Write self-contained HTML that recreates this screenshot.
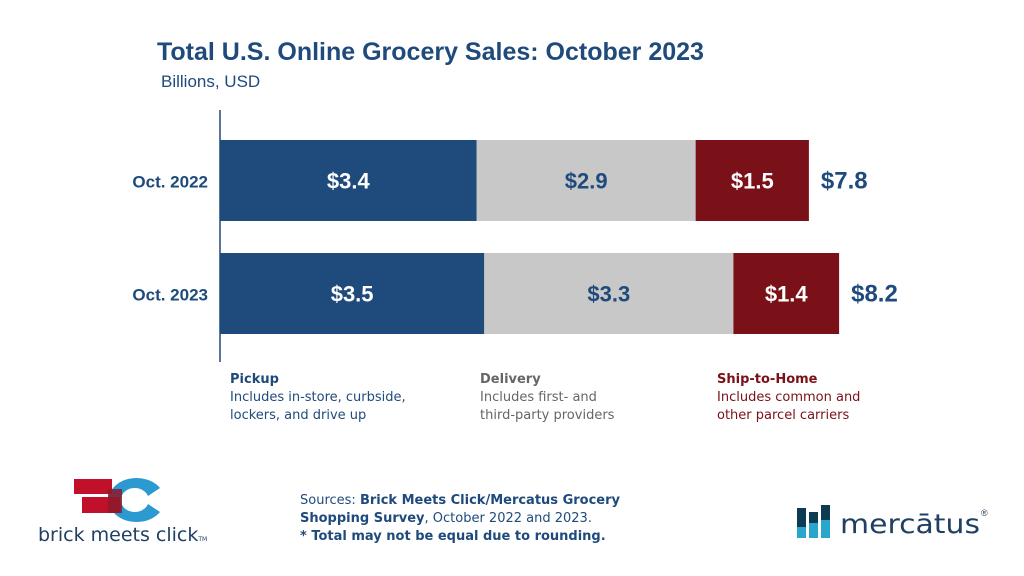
<!DOCTYPE html>
<html><head><meta charset="utf-8"><style>
body{margin:0;width:1024px;height:576px;background:#fff;font-family:"Liberation Sans",sans-serif;position:relative;overflow:hidden}
.a{position:absolute}
.leg{font-family:"DejaVu Sans",sans-serif;font-size:13px;line-height:18px;color:#1f4a7c}
</style></head><body>
<div class="a" style="left:157px;top:38px;font-size:25px;font-weight:bold;color:#1f4a7c">Total U.S. Online Grocery Sales: October 2023</div>
<div class="a" style="left:161px;top:72px;font-size:17px;color:#1f4a7c">Billions, USD</div>
<svg class="a" style="left:0;top:0" width="1024" height="400" id="chart"></svg>
<div class="a leg" style="left:230px;top:371px"><b>Pickup</b><br>Includes in-store, curbside,<br>lockers, and drive up</div>
<div class="a leg" style="left:480px;top:371px;color:#666"><b>Delivery</b><br>Includes first- and<br>third-party providers</div>
<div class="a leg" style="left:717px;top:371px;color:#7b1118"><b>Ship-to-Home</b><br>Includes common and<br>other parcel carriers</div>
<div class="a leg" style="left:300px;top:492px;font-size:13px;line-height:18px">Sources: <b>Brick Meets Click/Mercatus Grocery<br>Shopping Survey</b>, October 2022 and 2023.<br><b>* Total may not be equal due to rounding.</b></div>
<svg class="a" style="left:30px;top:475px" width="200" height="75">
<path d="M130 13 A28 22 0 1 0 130 37 L118 29 A14 12 0 1 1 118 21 Z" fill="#2a9ad0"/>
<rect x="44" y="4" width="38" height="15" fill="#c0102a"/><rect x="52" y="22" width="38" height="16" fill="#c0102a"/>
<rect x="78" y="14" width="14" height="24" fill="#8b1a2a" opacity="0.85"/>
<text x="8" y="66" font-size="19" fill="#1f3f63" font-family="DejaVu Sans">brick meets click<tspan font-size="6">TM</tspan></text></svg>
<svg class="a" style="left:795px;top:500px" width="200" height="45">
<rect x="2" y="8" width="9" height="30" fill="#0c3b52"/><rect x="14" y="12" width="9" height="26" fill="#0c3b52"/><rect x="26" y="5" width="9" height="33" fill="#0c3b52"/>
<rect x="2" y="27" width="9" height="11" fill="#2aa6cc"/><rect x="14" y="23" width="9" height="15" fill="#2aa6cc"/><rect x="26" y="20" width="9" height="18" fill="#2aa6cc"/>
<text x="45" y="33" font-size="27" fill="#1f3f63" font-family="DejaVu Sans" textLength="140" lengthAdjust="spacingAndGlyphs">mercātus</text><text x="186" y="16" font-size="9" fill="#1f3f63">®</text></svg>
<script>
const categories=["Oct. 2022","Oct. 2023"];
const pickup=[3.4,3.5];
const delivery=[2.9,3.3];
const ship=[1.5,1.4];
const totals=[7.8,8.2];
const svg=document.getElementById('chart');
const NS='http://www.w3.org/2000/svg';
const x0=220,k=75.5;
const xs=v=>x0+v*k;
const yTop=[140,253],bh=81;
function el(t,a){const e=document.createElementNS(NS,t);for(const n in a)e.setAttribute(n,a[n]);svg.appendChild(e);return e;}
const series=[[pickup,'#1f4a7c','#fff','pickup'],[delivery,'#c8c8c8','#1f4a7c','delivery'],[ship,'#7b1118','#fff','ship-to-home']];
categories.forEach((c,i)=>{
 let acc=0;const y=yTop[i];
 series.forEach(s=>{
  const v=s[0][i];
  const r=el('rect',{x:xs(acc),y:y,width:v*k,height:bh,fill:s[1]});
  
  
  const t=el('text',{x:xs(acc+v/2),y:y+bh/2+8,'text-anchor':'middle','font-size':22,'font-weight':'bold',fill:s[2]});
  t.textContent='$'+v.toFixed(1);
  
  
  acc+=v;
 });
 const tt=el('text',{x:xs(acc)+12,y:y+bh/2+8,'font-size':24,'font-weight':'bold',fill:'#1f4a7c'});
 tt.textContent='$'+totals[i].toFixed(1);
 
 
 const cl=el('text',{x:208,y:y+bh/2+7,'text-anchor':'end','font-size':17,'font-weight':'bold',fill:'#1f4a7c'});
 cl.textContent=c;
 
 
});
const ax=el('line',{x1:x0,x2:x0,y1:110,y2:362,stroke:'#1f4a7c','stroke-width':1.5});


</script>
</body></html>
